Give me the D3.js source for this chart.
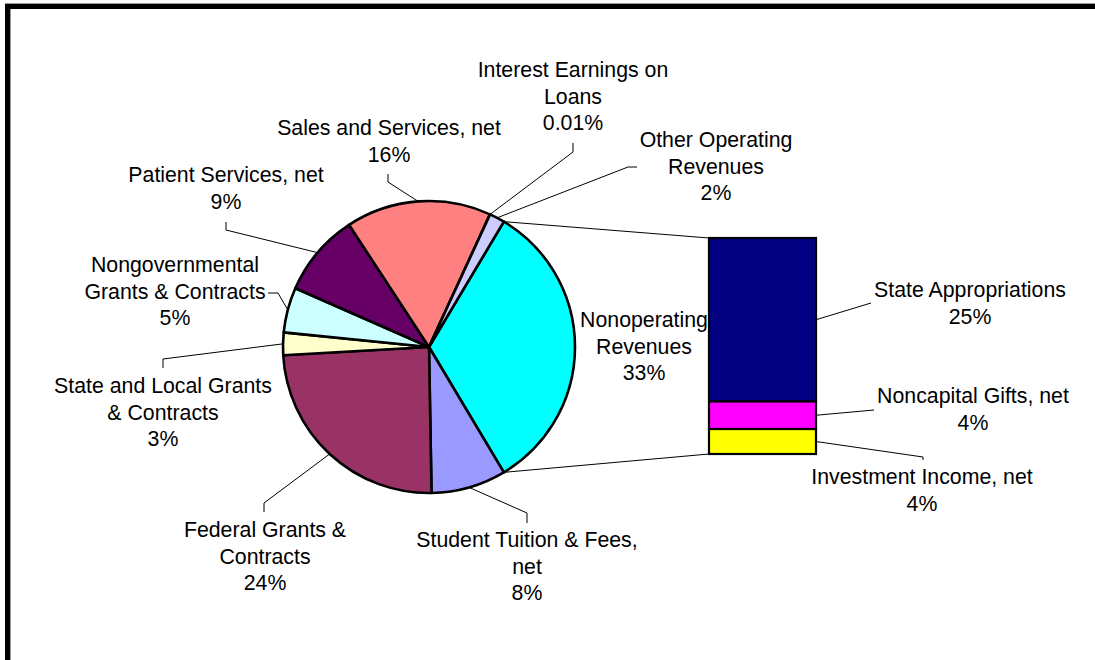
<!DOCTYPE html>
<html>
<head>
<meta charset="utf-8">
<script src="https://cdn.jsdelivr.net/npm/d3@7"></script>
<style>
  html, body { margin: 0; padding: 0; background: #fff; overflow: hidden; }
  svg { display: block; }
  text { font-family: "Liberation Sans", Arial, sans-serif; font-size: 21.3px; fill: #000; }
</style>
</head>
<body>
<svg id="chart" width="1095" height="660"></svg>
<script>
// ---- Data ----
const pieCategories = [
  "Nonoperating Revenues",
  "Student Tuition & Fees, net",
  "Federal Grants & Contracts",
  "State and Local Grants & Contracts",
  "Nongovernmental Grants & Contracts",
  "Patient Services, net",
  "Sales and Services, net",
  "Interest Earnings on Loans",
  "Other Operating Revenues"
];
const pieValues = [32.9, 8.3, 24.4, 2.5, 5.0, 9.2, 16.1, 0.01, 1.7];
const pieColors = ["#00FFFF", "#9999FF", "#993366", "#FFFFCC", "#CCFFFF", "#660066", "#FF8080", "#0066CC", "#CCCCFF"];

const barCategories = ["State Appropriations", "Noncapital Gifts, net", "Investment Income, net"];
const barValues = [24.9, 4.2, 3.8];
const barColors = ["#000080", "#FF00FF", "#FFFF00"];

// ---- Layout ----
const svg = d3.select("#chart");
const cx = 429, cy = 347, R = 146;
const lineH = 26.7;

function fmtPct(v) { return (v < 1 ? v.toFixed(2) : Math.round(v)) + "%"; }

// frame
svg.append("line").attr("x1", 5).attr("x2", 1095).attr("y1", 3.5).attr("y2", 3.5).attr("stroke", "#9a9a9a").attr("stroke-width", 1);
svg.append("line").attr("x1", 10.5).attr("x2", 10.5).attr("y1", 9).attr("y2", 660).attr("stroke", "#9a9a9a").attr("stroke-width", 1);
svg.append("rect").attr("x", 7.5).attr("y", 6.5).attr("width", 1300).attr("height", 900)
  .attr("fill", "none").attr("stroke", "#000").attr("stroke-width", 5);

// pie
const total = d3.sum(pieValues);
const firstAngle = 2 * Math.PI * pieValues[0] / total;
const start = Math.PI / 2 - firstAngle / 2;
const pie = d3.pie().sort(null).value(d => d).startAngle(start).endAngle(start + 2 * Math.PI);
const arcs = pie(pieValues);
const arc = d3.arc().innerRadius(0).outerRadius(R);

const g = svg.append("g").attr("transform", `translate(${cx},${cy})`);
g.selectAll("path.slice").data(arcs).enter().append("path")
  .attr("class", "slice")
  .attr("d", arc)
  .attr("fill", (d, i) => pieColors[i])
  .attr("stroke", "#000").attr("stroke-width", 2.6).attr("stroke-linejoin", "round");

function polar(a, r) { return [cx + r * Math.sin(a), cy - r * Math.cos(a)]; }

// bar (stacked)
const barX0 = 709, barX1 = 816;
const barTotal = d3.sum(barValues);
const yBar = d3.scaleLinear().domain([0, barTotal]).range([454, 238]);
let acc = 0;
const topDown = barValues.map((v, i) => { const s = { i, y1: barTotal - acc, y0: barTotal - acc - v }; acc += v; return s; });
svg.selectAll("rect.bar").data(topDown).enter().append("rect")
  .attr("class", "bar")
  .attr("x", barX0).attr("width", barX1 - barX0)
  .attr("y", d => yBar(d.y1)).attr("height", d => yBar(d.y0) - yBar(d.y1))
  .attr("fill", d => barColors[d.i])
  .attr("stroke", "#000").attr("stroke-width", 2.2);

// connector lines from pie to bar
const pTop = polar(arcs[0].startAngle, R);
const pBot = polar(arcs[0].endAngle, R);
svg.append("line").attr("x1", pTop[0]).attr("y1", pTop[1]).attr("x2", barX0).attr("y2", yBar(barTotal))
  .attr("stroke", "#000").attr("stroke-width", 1);
svg.append("line").attr("x1", pBot[0]).attr("y1", pBot[1]).attr("x2", barX0).attr("y2", yBar(0))
  .attr("stroke", "#000").attr("stroke-width", 1);

// pie labels
const pieLabelLayout = [
  { lines: ["Nonoperating", "Revenues"], x: 644, y: 327, leader: null },
  { lines: ["Student Tuition & Fees,", "net"], x: 527, y: 547, leader: [[527, 523], [527, 513]] },
  { lines: ["Federal Grants &", "Contracts"], x: 265, y: 537, leader: [[264, 512], [264, 503]] },
  { lines: ["State and Local Grants", "& Contracts"], x: 163, y: 393, leader: [[163, 368], [163, 359]] },
  { lines: ["Nongovernmental", "Grants & Contracts"], x: 175, y: 272, leader: [[268, 293], [278, 293]] },
  { lines: ["Patient Services, net"], x: 226, y: 182, leader: [[226, 222], [226, 230]] },
  { lines: ["Sales and Services, net"], x: 389, y: 135, leader: [[388, 174], [388, 182]] },
  { lines: ["Interest Earnings on", "Loans"], x: 573, y: 77, leader: [[573, 143], [573, 152]] },
  { lines: ["Other Operating", "Revenues"], x: 716, y: 147, leader: [[637, 167], [628, 167]] }
];

const lineGen = d3.line();
pieLabelLayout.forEach((L, i) => {
  const a = arcs[i];
  if (L.leader) {
    const mid = (a.startAngle + a.endAngle) / 2;
    const pts = L.leader.concat([polar(mid, R)]);
    svg.append("path").attr("d", lineGen(pts)).attr("fill", "none").attr("stroke", "#000").attr("stroke-width", 1);
  }
  const t = svg.append("text").attr("text-anchor", "middle");
  const all = L.lines.concat([fmtPct(pieValues[i])]);
  all.forEach((s, k) => t.append("tspan").attr("x", L.x).attr("y", L.y + k * lineH).text(s));
});

// bar labels
const barLabelLayout = [
  { x: 970, y: 297, leader: [[871, 303]] },
  { x: 973, y: 403, leader: [[874, 410]] },
  { x: 922, y: 484, leader: [[923, 460], [923, 457]] }
];
barLabelLayout.forEach((L, i) => {
  const seg = topDown.find(s => s.i === i);
  const ym = yBar((seg.y0 + seg.y1) / 2);
  const pts = L.leader.concat([[barX1, ym]]);
  svg.append("path").attr("d", lineGen(pts)).attr("fill", "none").attr("stroke", "#000").attr("stroke-width", 1);
  const t = svg.append("text").attr("text-anchor", "middle");
  [barCategories[i], fmtPct(barValues[i])].forEach((s, k) => t.append("tspan").attr("x", L.x).attr("y", L.y + k * lineH).text(s));
});
</script>
</body>
</html>
